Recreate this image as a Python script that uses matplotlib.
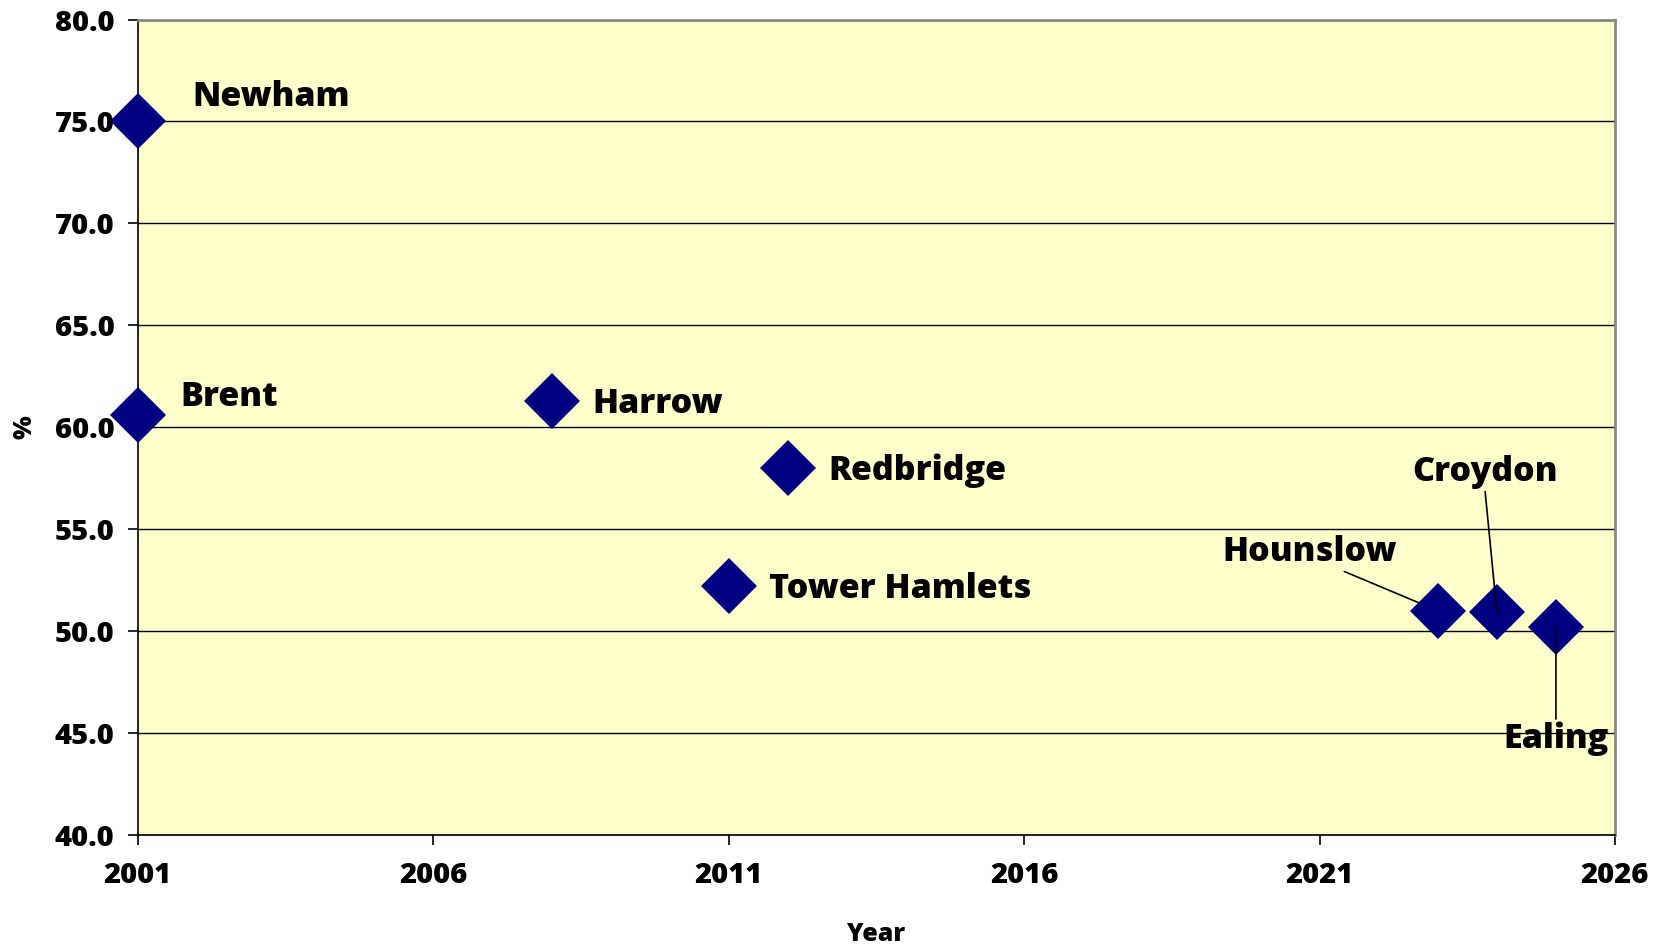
import matplotlib.pyplot as plt

# data
boroughs = ['Newham', 'Brent', 'Harrow', 'Redbridge', 'Tower Hamlets',
            'Hounslow', 'Croydon', 'Ealing']
years = [2001, 2001, 2008, 2012, 2011, 2023, 2024, 2025]
percent = [75.0, 60.6, 61.3, 58.0, 52.2, 51.0, 50.95, 50.2]

# label offsets in pixels (dx, dy), alignment, leader line (relpos, shrink)
label_pos = {
    'Newham': (54, 24, 'left', None),
    'Brent': (42, 18, 'left', None),
    'Harrow': (41, -3, 'left', None),
    'Redbridge': (41, -3, 'left', None),
    'Tower Hamlets': (40, -3, 'left', None),
    'Hounslow': (-128, 59, 'center', ((0.66, 0.0), 14)),
    'Croydon': (-12, 140, 'center', ((0.5, 0.0), 0)),
    'Ealing': (0, -112, 'center', ((0.5, 1.0), 0)),
}

plt.rcParams['font.family'] = ['Open Sans', 'DejaVu Sans']
plt.rcParams['font.weight'] = 'bold'

fig = plt.figure(figsize=(16.66, 9.47), dpi=100)
ax = fig.add_axes([0.0828, 0.1183, 0.8866, 0.8611])
ax.set_facecolor('#FFFFCC')

ax.plot(years, percent, linestyle='none', marker='D', markersize=29,
        color='#000080', markeredgewidth=0, zorder=3, clip_on=False)

for name, x, y in zip(boroughs, years, percent):
    dx, dy, ha, leader = label_pos[name]
    kw = {}
    if leader is not None:
        relpos, shrink = leader
        kw['arrowprops'] = dict(arrowstyle='-', color='black', lw=1.2,
                                relpos=relpos, shrinkA=0, shrinkB=shrink)
    ax.annotate(name, xy=(x, y), xytext=(dx, dy), textcoords='offset pixels',
                ha=ha, va='center', fontsize=24.5, fontweight='extra bold',
                annotation_clip=False, zorder=4, **kw)

ax.set_xlim(2001, 2026)
ax.set_ylim(40, 80)
ax.set_xticks(range(2001, 2027, 5))
ax.set_yticks(range(40, 81, 5))
ax.set_yticklabels([f'{v:.1f}' for v in range(40, 81, 5)])
ax.grid(axis='y', color='black', linewidth=1)
ax.set_axisbelow(True)

ax.tick_params(direction='out', length=7, width=1.2, labelsize=21, color='black')
ax.tick_params(axis='y', pad=10)
ax.tick_params(axis='x', pad=12)
for lab in ax.get_xticklabels() + ax.get_yticklabels():
    lab.set_fontweight('extra bold')

ax.spines['left'].set_color('black')
ax.spines['bottom'].set_color('black')
ax.spines['left'].set_linewidth(1.2)
ax.spines['bottom'].set_linewidth(1.2)
ax.spines['top'].set_color('#888888')
ax.spines['right'].set_color('#888888')
ax.spines['top'].set_linewidth(2)
ax.spines['right'].set_linewidth(2)

ax.set_xlabel('Year', fontsize=18, fontweight='extra bold', labelpad=23)
ax.set_ylabel('%', fontsize=18, fontweight='extra bold', labelpad=12)

fig.savefig('out.png', dpi=100)
